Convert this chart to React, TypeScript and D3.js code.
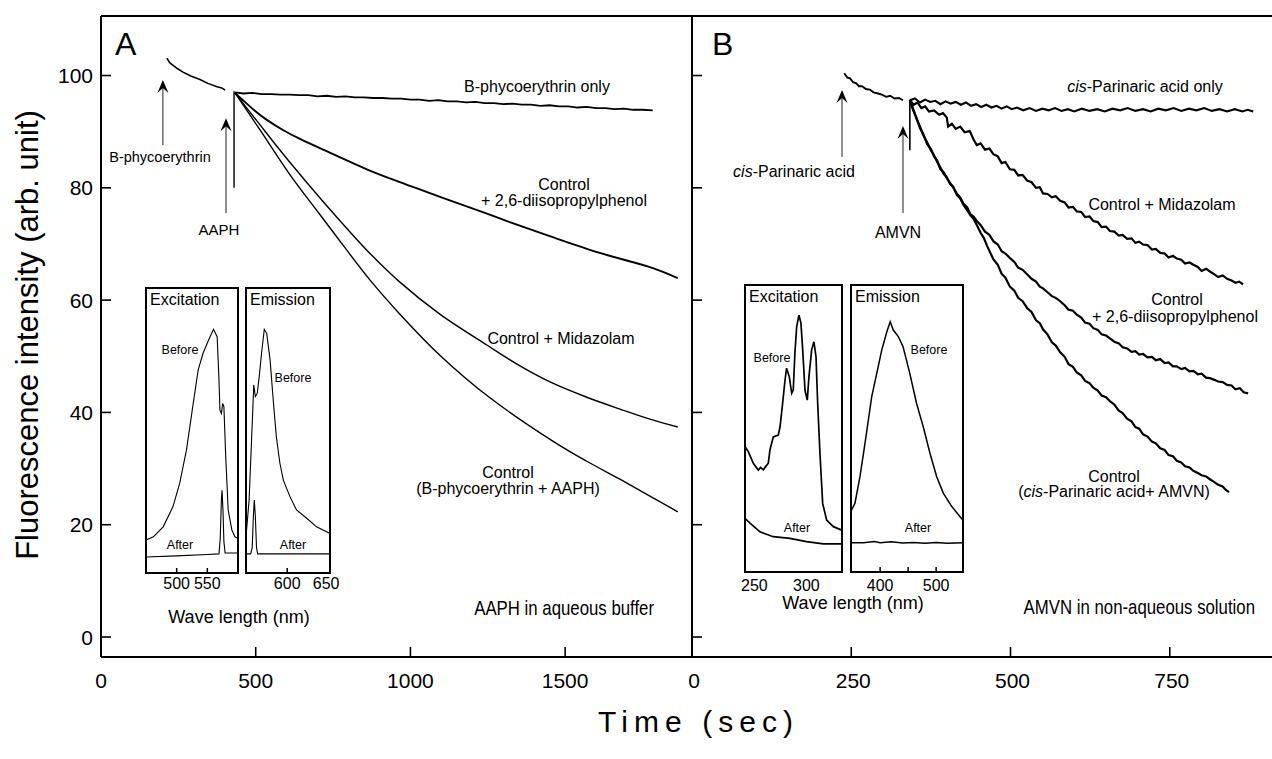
import React from "react";
import * as d3 from "d3";

type P = [number, number];

// ---------- main axes ----------
const yTicks = [0, 20, 40, 60, 80, 100];
const xTicksA = [0, 500, 1000, 1500];
const xTicksB = [0, 250, 500, 750];

// ---------- Panel A (time s, fluorescence) ----------
const aPre: P[] = [[213,103.1],[222,102.3],[233,101.8],[248,101.2],[265,100.6],[290,99.9],[320,99.3],[345,98.6],[375,98.0],[390,97.8],[401,97.4]];
const aSpike: P[] = [[430,97.2],[430,80.0]];
const aOnly: P[] = [[433,97.0],[460,96.8],[490,96.9],[520,96.7],[550,96.7],[580,96.6],[610,96.6],[640,96.5],[670,96.5],[700,96.3],[730,96.4],[760,96.2],[790,96.3],[820,96.1],[850,96.1],[880,96.0],[910,96.0],[940,95.9],[970,95.9],[1000,95.7],[1030,95.7],[1060,95.5],[1090,95.6],[1120,95.4],[1150,95.4],[1180,95.2],[1210,95.3],[1240,95.1],[1270,95.1],[1300,94.9],[1330,95.0],[1360,94.8],[1390,94.8],[1420,94.6],[1450,94.7],[1480,94.5],[1510,94.5],[1540,94.3],[1570,94.4],[1600,94.2],[1630,94.2],[1660,94.0],[1690,94.1],[1720,93.9],[1750,93.9],[1783,93.8]];
const aDiiso: P[] = [[433,96.9],[465,95.3],[498,93.7],[536,92.1],[588,90.3],[643,88.7],[750,86.0],[859,83.3],[966,81.0],[1100,78.3],[1218,76.0],[1321,73.9],[1450,71.4],[1612,68.4],[1784,65.7],[1864,63.9]];
const aMidaz: P[] = [[433,96.9],[514,91.2],[611,84.5],[714,77.8],[859,68.9],[966,63.2],[1095,57.5],[1247,52.0],[1354,48.3],[1460,45.2],[1570,42.7],[1677,40.6],[1774,38.8],[1864,37.4]];
const aControl: P[] = [[433,96.9],[514,90.3],[611,82.3],[708,75.2],[782,69.8],[869,63.6],[966,57.5],[1095,50.2],[1257,42.6],[1460,34.9],[1570,31.3],[1677,28.1],[1774,25.1],[1864,22.3]];

// ---------- Panel B ----------
const bPre: P[] = [[239,100.4],[244,99.6],[248,99.5],[253,98.8],[258,98.6],[262,98.1],[267,98.1],[273,97.6],[279,97.5],[285,97.0],[292,96.8],[298,96.6],[305,96.2],[311,96.4],[318,95.9],[325,96.0],[331,95.6]];
const bSpike: P[] = [[342,95.6],[342,86.7]];
const bOnly: P[] = [[342,95.6],[350,95.9],[358,95.2],[366,95.7],[374,95.3],[382,95.5],[390,94.9],[398,95.4],[406,95.0],[414,95.3],[422,94.8],[430,95.2],[438,94.6],[446,94.9],[454,94.4],[462,94.8],[470,94.3],[478,94.6],[486,94.1],[494,94.5],[502,94.0],[510,94.3],[520,93.8],[530,94.2],[540,93.7],[550,94.1],[560,93.8],[570,94.2],[580,93.7],[590,94.0],[600,93.6],[612,94.1],[624,93.7],[636,94.0],[648,93.6],[660,94.1],[672,93.8],[684,94.2],[696,93.7],[708,94.0],[720,93.6],[732,94.1],[744,93.8],[756,94.2],[768,93.7],[780,94.1],[792,93.8],[804,94.2],[816,93.7],[828,94.0],[840,93.6],[852,94.0],[864,93.6],[872,93.9],[881,93.6]];
const bMidaz: P[] = [[342,95.6],[348,94.8],[354,95.2],[360,94.2],[366,94.5],[372,93.6],[380,93.8],[388,93.0],[394,93.3],[400,92.5],[402,90.9],[408,91.4],[414,90.5],[421,90.9],[428,89.9],[436,90.1],[442,88.6],[447,87.6],[453,87.9],[460,86.8],[467,87.0],[473,86.0],[480,85.6],[486,84.4],[492,84.6],[499,83.3],[506,83.2],[512,82.2],[519,82.3],[526,81.3],[533,81.0],[540,80.0],[546,80.1],[551,79.0],[558,78.9],[565,78.3],[571,78.5],[578,77.7],[585,77.4],[591,76.5],[598,76.6],[604,75.8],[611,75.7],[617,74.8],[624,74.9],[630,74.1],[637,73.9],[643,73.0],[650,73.1],[656,72.3],[663,72.2],[670,71.5],[676,71.6],[683,70.9],[690,71.0],[696,70.2],[702,70.4],[708,69.9],[715,69.8],[722,69.0],[728,69.1],[735,68.4],[742,68.3],[748,67.6],[755,67.9],[761,67.4],[768,67.2],[774,66.5],[781,66.7],[787,66.3],[794,65.9],[800,65.2],[807,65.6],[813,65.1],[820,64.6],[826,64.1],[833,64.4],[840,63.8],[847,63.5],[853,63.1],[859,63.3],[865,62.8]];
const bDiiso: P[] = [[342,95.6],[347,93.9],[352,92.6],[358,90.6],[363,89.6],[369,87.8],[375,86.9],[380,85.6],[385,84.8],[390,83.3],[395,82.8],[400,81.7],[405,80.9],[410,80.1],[416,78.9],[421,78.3],[426,77.2],[432,76.5],[437,75.3],[442,74.9],[447,74.1],[453,73.4],[460,72.2],[467,71.6],[473,70.5],[480,69.9],[486,68.7],[492,68.3],[499,67.5],[506,66.8],[512,65.8],[519,65.4],[526,64.6],[533,63.8],[540,63.3],[546,62.4],[551,62.1],[558,61.4],[565,60.7],[571,60.4],[578,59.8],[585,59.1],[591,58.3],[598,58.1],[604,57.4],[611,56.9],[617,56.0],[624,55.8],[630,55.0],[637,54.7],[643,53.9],[650,53.7],[656,53.2],[663,52.6],[670,52.3],[676,51.6],[683,51.4],[690,50.8],[696,50.9],[702,50.3],[708,50.4],[715,49.8],[722,49.9],[728,49.3],[735,49.5],[742,48.8],[748,48.9],[755,48.2],[761,48.2],[768,47.7],[774,47.9],[781,47.3],[787,47.4],[794,46.8],[800,46.9],[807,46.2],[813,46.1],[820,45.8],[826,45.5],[833,45.4],[840,44.9],[847,44.8],[853,44.1],[860,44.3],[866,43.6],[873,43.4]];
const bControl: P[] = [[342,95.6],[347,94.1],[352,92.4],[358,90.9],[363,89.4],[369,88.1],[375,86.7],[380,85.8],[385,84.6],[390,83.6],[395,82.5],[400,81.9],[405,80.7],[410,80.2],[416,78.7],[421,78.1],[426,77.0],[432,76.0],[437,75.1],[442,74.5],[447,73.4],[453,72.0],[458,71.1],[463,69.7],[468,68.5],[473,67.3],[480,66.3],[486,64.7],[492,64.0],[499,62.4],[506,61.7],[512,60.4],[519,59.8],[526,58.6],[533,57.9],[540,56.4],[546,55.9],[551,54.8],[558,53.9],[565,52.5],[571,51.9],[578,50.7],[585,49.9],[591,48.6],[598,48.1],[604,47.1],[611,46.6],[617,45.6],[624,45.2],[630,44.4],[637,43.9],[643,43.0],[650,42.7],[656,42.0],[663,41.4],[670,40.3],[676,39.9],[683,38.9],[690,38.4],[696,37.4],[702,37.1],[708,36.1],[715,35.7],[722,34.8],[728,34.5],[735,33.6],[742,33.3],[748,32.4],[755,32.2],[761,31.4],[768,31.1],[774,30.4],[781,30.2],[787,29.6],[794,29.2],[800,28.8],[807,28.6],[813,28.1],[820,27.6],[826,27.1],[833,26.8],[838,26.2],[843,25.8]];

// ---------- insets (wavelength nm, relative intensity 0-100) ----------
const exAWlTicks = [500, 550];
const exAWlLabels = [500, 550];
const emAWlTicks = [600];
const emAWlLabels = [600, 650];
const exBWlTicks: number[] = [];
const exBWlLabels = [250, 300];
const emBWlTicks = [400, 450, 500];
const emBWlLabels = [400, 500];
const exABefore: P[] = [[450,11.6],[462,12.7],[478,16.2],[494,23.3],[505,31.5],[516,43.2],[527,59.5],[535,71.2],[543,77.1],[551,81.2],[560,85.5],[566,82.9],[569,67.7],[570.5,57.2],[573,56.0],[575,59.5],[577,58.4],[580,40.8],[584,22.1],[590,15.1],[595,12.7],[599.5,12.2]];
const exAAfter: P[] = [[450,5.6],[500,6.0],[550,6.5],[569,6.7],[571,12],[573,26],[574,29],[575.5,22],[577,11],[579,7.0],[590,7.0],[600,7.0]];
const emABefore: P[] = [[547,12.7],[551,25.6],[554,45.5],[557,66.0],[559,61.9],[561.5,63.1],[564,68.9],[567,77.1],[570.5,85.5],[573.6,84.1],[578,74.7],[582,60.7],[586,47.8],[590.6,38.5],[595,32.6],[603.5,26.8],[612,22.1],[625,19.2],[637.7,16.2],[655,13.9]];
const emAAfter: P[] = [[547,6.7],[553,6.7],[555,9],[556.5,20],[557.7,25.6],[559,20],[560.5,9],[562,6.7],[600,6.7],[655,6.7]];
const exBBefore: P[] = [[241,43.7],[244.2,41.9],[249,37.9],[253.8,35.5],[256,36.4],[258.6,35.6],[261,36.8],[263.4,37.9],[265,42.5],[268.2,47.1],[273,47.7],[274.7,50.6],[277.2,58.8],[279.5,66.9],[281,71.0],[283.6,68.0],[285.9,62.3],[287.4,63.4],[289,76.2],[290.7,85.5],[292.9,89.5],[294.8,86.7],[296.5,77.4],[298.7,63.4],[300.9,59.9],[302.5,68.0],[305.1,77.4],[307.3,80.2],[309.3,75.0],[310.9,58.8],[313.1,41.4],[315.7,23.9],[319.5,18.1],[326,15.8],[334,14.6]];
const exBAfter: P[] = [[241,18.7],[245.8,17.0],[255.4,14.0],[268.2,12.3],[284.2,11.7],[300.2,10.6],[316.3,9.8],[334,9.8]];
const emBBefore: P[] = [[349,21.6],[355,23.9],[364,33.2],[373,44.8],[385,61.1],[394,69.2],[403,77.4],[412,83.7],[418,87.2],[423.5,84.3],[432.5,82.0],[441,78.5],[453,69.2],[465,58.8],[477,50.6],[489,41.4],[501,33.2],[513,27.4],[528,22.8],[547.5,18.1]];
const emBAfter: P[] = [[348,10.2],[370,10.2],[390,10.6],[400,10.2],[420,10.5],[440,10.1],[460,10.3],[480,10.0],[500,10.3],[520,10.0],[548,10.2]];

const FONT = "'Liberation Sans', Arial, Helvetica, sans-serif";

export default function App() {
  const W = 1272, H = 759;
  const top = 16, bottom = 657, left = 101, mid = 692, right = 1272;
  const xA = d3.scaleLinear().domain([0, 1910]).range([left, mid]);
  const xB = d3.scaleLinear().domain([0, 910]).range([mid, 1271.7]);
  const y = d3.scaleLinear().domain([-3.56, 110.6]).range([bottom, top]);

  const lineA = d3.line<P>().x(d => xA(d[0])).y(d => y(d[1]));
  const lineAs = d3.line<P>().x(d => xA(d[0])).y(d => y(d[1])).curve(d3.curveCatmullRom);
  const lineB = d3.line<P>().x(d => xB(d[0])).y(d => y(d[1]));

  const insetY = (t: number, b: number) => d3.scaleLinear().domain([0, 100]).range([b, t]);
  const ins = [
    { x: d3.scaleLinear().domain([450, 600]).range([146, 238]), y: insetY(288, 573), box: [146, 288, 238, 573], ticks: exAWlTicks, labels: exAWlLabels, title: "Excitation", before: exABefore, after: exAAfter, bl: [180, 354], al: [180, 549], lw: 1.1, ly: 589 },
    { x: d3.scaleLinear().domain([547, 655]).range([246, 330]), y: insetY(288, 573), box: [246, 288, 330, 573], ticks: emAWlTicks, labels: emAWlLabels, title: "Emission", before: emABefore, after: emAAfter, bl: [293, 382], al: [293, 549], lw: 1.1, ly: 589 },
    { x: d3.scaleLinear().domain([241, 334.3]).range([745, 842]), y: insetY(285, 572), box: [745, 285, 842, 572], ticks: exBWlTicks, labels: exBWlLabels, title: "Excitation", before: exBBefore, after: exBAfter, bl: [772, 362], al: [797, 532], lw: 1.7, ly: 591 },
    { x: d3.scaleLinear().domain([348, 548]).range([851, 963]), y: insetY(285, 572), box: [851, 285, 963, 572], ticks: emBWlTicks, labels: emBWlLabels, title: "Emission", before: emBBefore, after: emBAfter, bl: [929, 354], al: [918, 532], lw: 1.5, ly: 591 },
  ];

  const arrow = (x: number, yTip: number, yTail: number, key: string) => (
    <g key={key}>
      <line x1={x} x2={x} y1={yTip + 4} y2={yTail} stroke="#222" strokeWidth={1} />
      <path d={`M${x - 5.5},${yTip + 13} L${x},${yTip} L${x + 5.5},${yTip + 13} L${x},${yTip + 8} Z`} fill="#000" />
    </g>
  );

  const t = (x: number, yy: number, s: string | React.ReactNode, size: number, anchor = "middle", extra: any = {}) => (
    <text x={x} y={yy} fontSize={size} textAnchor={anchor} fontFamily={FONT} fill="#000" {...extra}>{s}</text>
  );

  return (
    <svg width={W} height={H} style={{ position: "absolute", left: 0, top: 0, background: "#fff" }}>
      <rect x={0} y={0} width={W} height={H} fill="#fff" />
      <line x1={left} x2={right} y1={top} y2={top} stroke="#000" strokeWidth={2} />
      <line x1={left} x2={right} y1={bottom} y2={bottom} stroke="#000" strokeWidth={2} />
      <line x1={left} x2={left} y1={top} y2={bottom} stroke="#000" strokeWidth={2} />
      <line x1={mid} x2={mid} y1={top} y2={bottom} stroke="#000" strokeWidth={2} />

      {yTicks.map(v => (
        <g key={"yt" + v}>
          <line x1={left} x2={left + 10} y1={y(v)} y2={y(v)} stroke="#000" strokeWidth={1.6} />
          <line x1={mid} x2={mid + 10} y1={y(v)} y2={y(v)} stroke="#000" strokeWidth={1.6} />
          {t(93, y(v) + 7.5, String(v), 21, "end")}
        </g>
      ))}
      {xTicksA.map(v => (
        <g key={"xa" + v}>
          {v > 0 && <line x1={xA(v)} x2={xA(v)} y1={bottom} y2={bottom - 10} stroke="#000" strokeWidth={1.6} />}
          {t(xA(v), 688, String(v), 21)}
        </g>
      ))}
      {xTicksB.map(v => (
        <g key={"xb" + v}>
          {v > 0 && <line x1={xB(v)} x2={xB(v)} y1={bottom} y2={bottom - 10} stroke="#000" strokeWidth={1.6} />}
          {t(xB(v) + 2, 688, String(v), 21)}
        </g>
      ))}

      <text transform="translate(38,335) rotate(-90)" fontSize={31} textAnchor="middle" fontFamily={FONT}>Fluorescence intensity (arb. unit)</text>
      <text x={598} y={732} fontSize={30} fontFamily={FONT} textLength={195} lengthAdjust="spacing">Time (sec)</text>

      {t(115, 55, "A", 32, "start")}
      {t(712, 55, "B", 32, "start")}

      <path d={lineA(aPre) || ""} fill="none" stroke="#000" strokeWidth={1.6} />
      <path d={lineA(aSpike) || ""} fill="none" stroke="#000" strokeWidth={1.4} />
      <path d={lineA(aOnly) || ""} fill="none" stroke="#000" strokeWidth={1.8} />
      <path d={lineAs(aDiiso) || ""} fill="none" stroke="#000" strokeWidth={1.9} />
      <path d={lineAs(aMidaz) || ""} fill="none" stroke="#000" strokeWidth={1.4} />
      <path d={lineAs(aControl) || ""} fill="none" stroke="#000" strokeWidth={1.4} />

      {arrow(xA(200), y(99.2), y(87.6), "a1")}
      {arrow(xA(404), y(92.4), y(75.5), "a2")}
      {t(160, 162, "B-phycoerythrin", 14.5)}
      {t(219, 235, "AAPH", 15)}
      {t(537, 92, "B-phycoerythrin only", 16)}
      {t(564, 190, "Control", 16)}
      {t(564, 206, "+ 2,6-diisopropylphenol", 16)}
      {t(561, 344, "Control + Midazolam", 16)}
      {t(508, 478, "Control", 16)}
      {t(508, 494, "(B-phycoerythrin + AAPH)", 16)}
      <g transform="translate(654,615) scale(0.84,1)">
        <text x={0} y={0} fontSize={20} textAnchor="end" fontFamily={FONT}>AAPH in aqueous buffer</text>
      </g>

      <path d={lineB(bPre) || ""} fill="none" stroke="#000" strokeWidth={1.9} />
      <path d={lineB(bSpike) || ""} fill="none" stroke="#000" strokeWidth={1.6} />
      <path d={lineB(bOnly) || ""} fill="none" stroke="#000" strokeWidth={2.1} />
      <path d={lineB(bMidaz) || ""} fill="none" stroke="#000" strokeWidth={2.2} />
      <path d={lineB(bDiiso) || ""} fill="none" stroke="#000" strokeWidth={2.2} />
      <path d={lineB(bControl) || ""} fill="none" stroke="#000" strokeWidth={2.2} />

      {arrow(xB(235.5), y(97.4), y(85.5), "b1")}
      {arrow(xB(331.2), y(91.0), y(75.5), "b2")}
      {t(794, 177, <><tspan fontStyle="italic">cis</tspan>-Parinaric acid</>, 16)}
      {t(898, 238, "AMVN", 16)}
      {t(1145, 92, <><tspan fontStyle="italic">cis</tspan>-Parinaric acid only</>, 16)}
      {t(1162, 210, "Control + Midazolam", 16)}
      {t(1177, 305, "Control", 16)}
      {t(1175, 322, "+ 2,6-diisopropylphenol", 16)}
      {t(1114, 482, "Control", 16)}
      {t(1114, 497, <>(<tspan fontStyle="italic">cis</tspan>-Parinaric acid+ AMVN)</>, 16)}
      <g transform="translate(1255,614) scale(0.84,1)">
        <text x={0} y={0} fontSize={20} textAnchor="end" fontFamily={FONT}>AMVN in non-aqueous solution</text>
      </g>

      {ins.map((p, i) => {
        const ln = d3.line<P>().x(d => p.x(d[0])).y(d => p.y(d[1]));
        const [x0, y0, x1, y1] = p.box;
        return (
          <g key={"ins" + i}>
            <rect x={x0} y={y0} width={x1 - x0} height={y1 - y0} fill="#fff" stroke="#000" strokeWidth={2} />
            <path d={ln(p.before) || ""} fill="none" stroke="#000" strokeWidth={p.lw} />
            <path d={ln(p.after) || ""} fill="none" stroke="#000" strokeWidth={p.lw} />
            {p.ticks.map(tk => (
              <line key={"tk" + tk} x1={p.x(tk)} x2={p.x(tk)} y1={y1} y2={y1 - 5} stroke="#000" strokeWidth={1.5} />
            ))}
            {p.labels.map(tk => (
              <g key={"lb" + tk}>{t(p.x(tk), p.ly, String(tk), 16)}</g>
            ))}
            {t(x0 + 4, y0 + 17, p.title, 16, "start")}
            {t(p.bl[0], p.bl[1], "Before", 12.5)}
            {t(p.al[0], p.al[1], "After", 12.5)}
          </g>
        );
      })}
      {t(239, 623, "Wave length (nm)", 18)}
      {t(853, 609, "Wave length (nm)", 18)}
    </svg>
  );
}
